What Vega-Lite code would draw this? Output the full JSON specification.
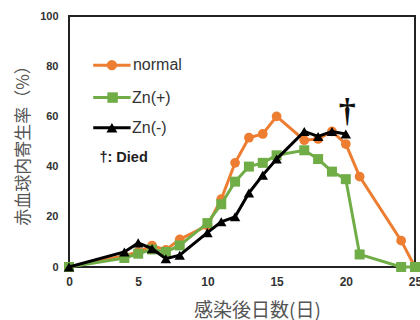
{
  "$schema": "https://vega.github.io/schema/vega-lite/v6.json",
  "width": 346,
  "height": 251,
  "autosize": "none",
  "padding": {"left": 69, "top": 16, "right": 5, "bottom": 53},
  "background": "white",
  "config": {
    "view": {"stroke": "#222222", "strokeWidth": 2},
    "font": "Liberation Sans"
  },
  "data": {
    "values": [
      {"series": "normal", "day": 0, "rate": 0},
      {"series": "normal", "day": 4, "rate": 4.5},
      {"series": "normal", "day": 5, "rate": 6},
      {"series": "normal", "day": 6, "rate": 8.5},
      {"series": "normal", "day": 7, "rate": 6.8},
      {"series": "normal", "day": 8, "rate": 11},
      {"series": "normal", "day": 10, "rate": 16.5},
      {"series": "normal", "day": 11, "rate": 27},
      {"series": "normal", "day": 12, "rate": 41.5},
      {"series": "normal", "day": 13, "rate": 51.5},
      {"series": "normal", "day": 14, "rate": 53},
      {"series": "normal", "day": 15, "rate": 60},
      {"series": "normal", "day": 17, "rate": 50.5},
      {"series": "normal", "day": 18, "rate": 51},
      {"series": "normal", "day": 19, "rate": 54},
      {"series": "normal", "day": 20, "rate": 49},
      {"series": "normal", "day": 21, "rate": 36},
      {"series": "normal", "day": 24, "rate": 10.5},
      {"series": "normal", "day": 25, "rate": 0},
      {"series": "Zn(+)", "day": 0, "rate": 0},
      {"series": "Zn(+)", "day": 4, "rate": 3.6},
      {"series": "Zn(+)", "day": 5, "rate": 5.3},
      {"series": "Zn(+)", "day": 6, "rate": 7},
      {"series": "Zn(+)", "day": 7, "rate": 6},
      {"series": "Zn(+)", "day": 8, "rate": 8.6},
      {"series": "Zn(+)", "day": 10, "rate": 17.5},
      {"series": "Zn(+)", "day": 11, "rate": 25},
      {"series": "Zn(+)", "day": 12, "rate": 34},
      {"series": "Zn(+)", "day": 13, "rate": 40},
      {"series": "Zn(+)", "day": 14, "rate": 41.5},
      {"series": "Zn(+)", "day": 15, "rate": 44.5},
      {"series": "Zn(+)", "day": 17, "rate": 46.5},
      {"series": "Zn(+)", "day": 18, "rate": 43},
      {"series": "Zn(+)", "day": 19, "rate": 38},
      {"series": "Zn(+)", "day": 20, "rate": 35},
      {"series": "Zn(+)", "day": 21, "rate": 5},
      {"series": "Zn(+)", "day": 24, "rate": 0},
      {"series": "Zn(+)", "day": 25, "rate": 0},
      {"series": "Zn(-)", "day": 0, "rate": 0},
      {"series": "Zn(-)", "day": 4, "rate": 6},
      {"series": "Zn(-)", "day": 5, "rate": 9.6},
      {"series": "Zn(-)", "day": 6, "rate": 7.3},
      {"series": "Zn(-)", "day": 7, "rate": 3.3},
      {"series": "Zn(-)", "day": 8, "rate": 4.7},
      {"series": "Zn(-)", "day": 10, "rate": 13.7},
      {"series": "Zn(-)", "day": 11, "rate": 18},
      {"series": "Zn(-)", "day": 12, "rate": 20},
      {"series": "Zn(-)", "day": 13, "rate": 29.5},
      {"series": "Zn(-)", "day": 14, "rate": 36.6},
      {"series": "Zn(-)", "day": 15, "rate": 43},
      {"series": "Zn(-)", "day": 17, "rate": 54},
      {"series": "Zn(-)", "day": 18, "rate": 52},
      {"series": "Zn(-)", "day": 19, "rate": 54},
      {"series": "Zn(-)", "day": 20, "rate": 53}
    ]
  },
  "encoding": {
    "x": {
      "field": "day", "type": "quantitative",
      "scale": {"domain": [0, 25], "nice": false},
      "axis": {
        "values": [0, 5, 10, 15, 20, 25], "ticks": false, "domain": false, "grid": false,
        "labelFont": "Liberation Sans", "labelFontSize": 12, "labelFontWeight": "bold", "labelColor": "#333333",
        "labelPadding": 9, "labelFlush": false,
        "title": "感染後日数(日)", "titleFont": "Noto Sans CJK JP", "titleFontSize": 19, "titleFontWeight": "normal",
        "titleColor": "#555555", "titleX": 188, "titleY": 43, "titleBaseline": "middle", "titleAlign": "center"
      }
    },
    "y": {
      "field": "rate", "type": "quantitative",
      "scale": {"domain": [0, 100], "nice": false},
      "axis": {
        "values": [0, 20, 40, 60, 80, 100], "ticks": false, "domain": false, "grid": false,
        "labelFont": "Liberation Sans", "labelFontSize": 11, "labelFontWeight": "bold", "labelColor": "#333333",
        "labelPadding": 11,
        "title": "赤血球内寄生率（%）", "titleFont": "Noto Sans CJK JP", "titleFontSize": 17, "titleFontWeight": "normal",
        "titleColor": "#555555", "titleX": -46, "titleY": 125, "titleAngle": -90, "titleBaseline": "middle", "titleAlign": "center"
      }
    },
    "color": {
      "field": "series", "type": "nominal",
      "scale": {"domain": ["normal", "Zn(+)", "Zn(-)"], "range": ["#ED7D31", "#70AD47", "#000000"]},
      "legend": {"orient": "none", "legendX": 3000, "legendY": 3000, "title": null, "values": []}
    },
    "shape": {
      "field": "series", "type": "nominal",
      "scale": {"domain": ["normal", "Zn(+)", "Zn(-)"], "range": ["circle", "square", "triangle-up"]},
      "legend": null
    }
  },
  "layer": [
    {
      "transform": [{"filter": "datum.series === 'normal'"}],
      "layer": [
        {"mark": {"type": "line", "strokeWidth": 3}, "encoding": {"shape": null}},
        {"mark": {"type": "point", "filled": true, "opacity": 1, "size": 95}}
      ]
    },
    {
      "transform": [{"filter": "datum.series === 'Zn(+)'"}],
      "layer": [
        {"mark": {"type": "line", "strokeWidth": 3}, "encoding": {"shape": null}},
        {"mark": {"type": "point", "filled": true, "opacity": 1, "size": 100}}
      ]
    },
    {
      "transform": [{"filter": "datum.series === 'Zn(-)'"}],
      "layer": [
        {"mark": {"type": "line", "strokeWidth": 3}, "encoding": {"shape": null}},
        {"mark": {"type": "point", "filled": true, "opacity": 1, "size": 110}}
      ]
    },
    {
      "transform": [{"filter": "datum.series === 'normal' && datum.day === 0"}],
      "encoding": {"y": {"datum": 80.4}},
      "layer": [
        {"mark": {"type": "rule", "strokeWidth": 3}, "encoding": {"x": {"datum": 1.75}, "x2": {"datum": 4.45}, "shape": null}},
        {"mark": {"type": "point", "filled": true, "opacity": 1, "size": 105}, "encoding": {"x": {"datum": 3.1}}},
        {"mark": {"type": "text", "align": "left", "baseline": "middle", "fontSize": 16, "font": "Liberation Sans", "color": "#333333"}, "encoding": {"x": {"datum": 4.62}, "text": {"field": "series"}, "color": null, "shape": null}}
      ]
    },
    {
      "transform": [{"filter": "datum.series === 'Zn(+)' && datum.day === 0"}],
      "encoding": {"y": {"datum": 67.5}},
      "layer": [
        {"mark": {"type": "rule", "strokeWidth": 3}, "encoding": {"x": {"datum": 1.75}, "x2": {"datum": 4.45}, "shape": null}},
        {"mark": {"type": "point", "filled": true, "opacity": 1, "size": 110}, "encoding": {"x": {"datum": 3.15}}},
        {"mark": {"type": "text", "align": "left", "baseline": "middle", "fontSize": 16, "font": "Liberation Sans", "color": "#333333"}, "encoding": {"x": {"datum": 4.55}, "text": {"field": "series"}, "color": null, "shape": null}}
      ]
    },
    {
      "transform": [{"filter": "datum.series === 'Zn(-)' && datum.day === 0"}],
      "encoding": {"y": {"datum": 55.5}},
      "layer": [
        {"mark": {"type": "rule", "strokeWidth": 3}, "encoding": {"x": {"datum": 1.75}, "x2": {"datum": 4.45}, "shape": null}},
        {"mark": {"type": "point", "filled": true, "opacity": 1, "size": 120}, "encoding": {"x": {"datum": 3.1}}},
        {"mark": {"type": "text", "align": "left", "baseline": "middle", "fontSize": 16, "font": "Liberation Sans", "color": "#333333"}, "encoding": {"x": {"datum": 4.55}, "text": {"field": "series"}, "color": null, "shape": null}}
      ]
    },
    {
      "transform": [{"filter": "datum.series === 'Zn(-)' && datum.day === 20"}],
      "mark": {"type": "text", "text": "†", "font": "Liberation Serif", "fontSize": 34, "fontWeight": "bold", "color": "#111111", "baseline": "middle", "align": "center"},
      "encoding": {"x": {"datum": 20.1}, "y": {"datum": 61.6}, "color": null, "shape": null}
    },
    {
      "transform": [{"filter": "datum.series === 'Zn(-)' && datum.day === 20"}],
      "mark": {"type": "text", "text": "†: Died", "font": "Liberation Sans", "fontSize": 14.5, "fontWeight": "bold", "color": "#222222", "baseline": "middle", "align": "left"},
      "encoding": {"x": {"datum": 2.2}, "y": {"datum": 43.3}, "color": null, "shape": null}
    }
  ]
}
